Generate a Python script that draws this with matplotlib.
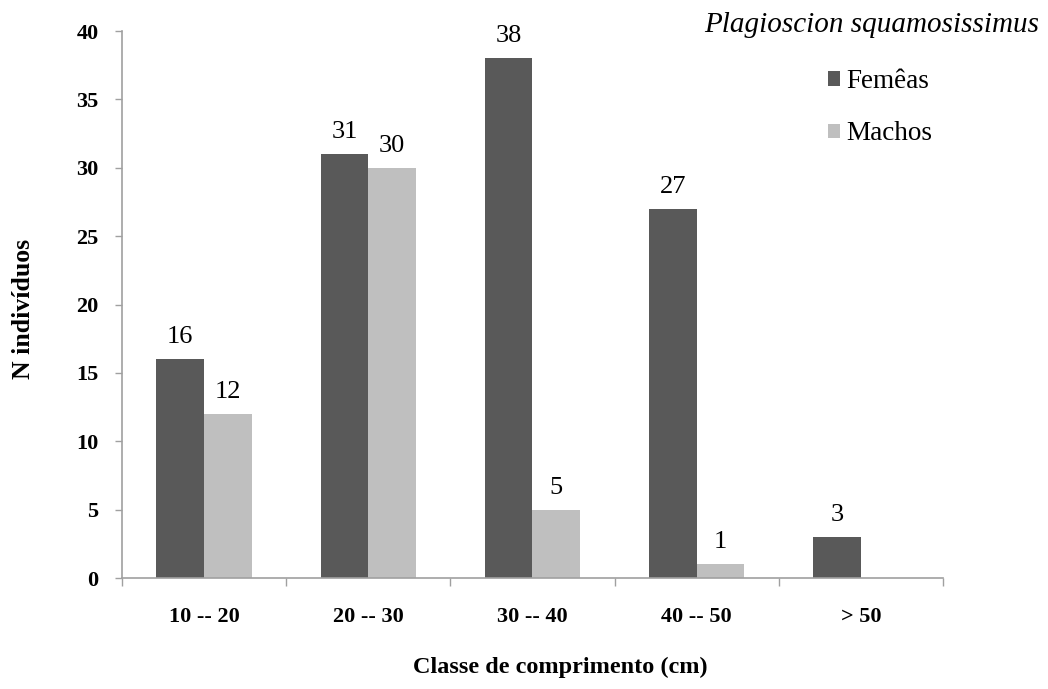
import matplotlib
matplotlib.use("Agg")
import matplotlib.pyplot as plt
import numpy as np

categories = ["10 -- 20", "20 -- 30", "30 -- 40", "40 -- 50", "> 50"]
femeas = [16, 31, 38, 27, 3]
machos = [12, 30, 5, 1, None]
series_names = ["Fem\u00eaas", "Machos"]
title = "Plagioscion squamosissimus"

plt.rcParams['font.family'] = ['Liberation Serif', 'DejaVu Serif']

fig = plt.figure(figsize=(10.48, 6.89), dpi=100)
ax = fig.add_axes([0.1164, 0.1611, 0.7834, 0.7939])

x = np.arange(len(categories))
w = 0.29
dark = "#595959"
light = "#BFBFBF"

fv = np.array(femeas, dtype=float)
mv = np.array([np.nan if v is None else v for v in machos], dtype=float)
b1 = ax.bar(x - w / 2, fv, w, color=dark, label=series_names[0])
mask = ~np.isnan(mv)
b2 = ax.bar(x[mask] + w / 2, mv[mask], w, color=light, label=series_names[1])

for xi, v in zip(x, fv):
    ax.annotate(f"{int(v)}", (xi - w / 2, v), xytext=(0, 8), textcoords="offset points",
                ha="center", va="bottom", fontsize=19)
for xi, v in zip(x[mask], mv[mask]):
    ax.annotate(f"{int(v)}", (xi + w / 2, v), xytext=(0, 8), textcoords="offset points",
                ha="center", va="bottom", fontsize=19)

ax.set_xlim(-0.5, len(categories) - 0.5)
ax.set_ylim(0, 40)
ax.set_yticks(np.arange(0, 41, 5))
ax.set_xticks(np.arange(-0.5, len(categories), 1.0))
ax.set_xticklabels([])
ax.set_xticks(x, minor=True)
ax.set_xticklabels(categories, minor=True, fontsize=16, fontweight="bold")
ax.tick_params(axis="x", which="minor", length=0, pad=21)
ax.tick_params(axis="x", which="major", length=6, width=1, color="#A0A0A0", direction="out")
ax.tick_params(axis="y", length=5, width=1, color="#A0A0A0", direction="out", pad=12)
for lab in ax.get_yticklabels():
    lab.set_fontsize(16)
    lab.set_fontweight("bold")

for s in ["top", "right"]:
    ax.spines[s].set_visible(False)
for s in ["left", "bottom"]:
    ax.spines[s].set_color("#A0A0A0")
    ax.spines[s].set_linewidth(1.2)

fig.text(0.992, 0.963, title, ha="right", va="center", fontsize=21, style="italic")
fig.text(0.535, 0.031, "Classe de comprimento (cm)", ha="center", va="center",
         fontsize=17.5, fontweight="bold")
fig.text(0.022, 0.5515, "N indiv\u00edduos", ha="center", va="center", rotation=90,
         fontsize=18.5, fontweight="bold")

leg = fig.legend(handles=[b1, b2], loc="upper left", bbox_to_anchor=(0.780, 0.915),
                 frameon=False, fontsize=19.5, handlelength=0.45, handleheight=0.45,
                 handletextpad=0.2, labelspacing=1.0, borderaxespad=0)

fig.savefig("out.png", dpi=100)
